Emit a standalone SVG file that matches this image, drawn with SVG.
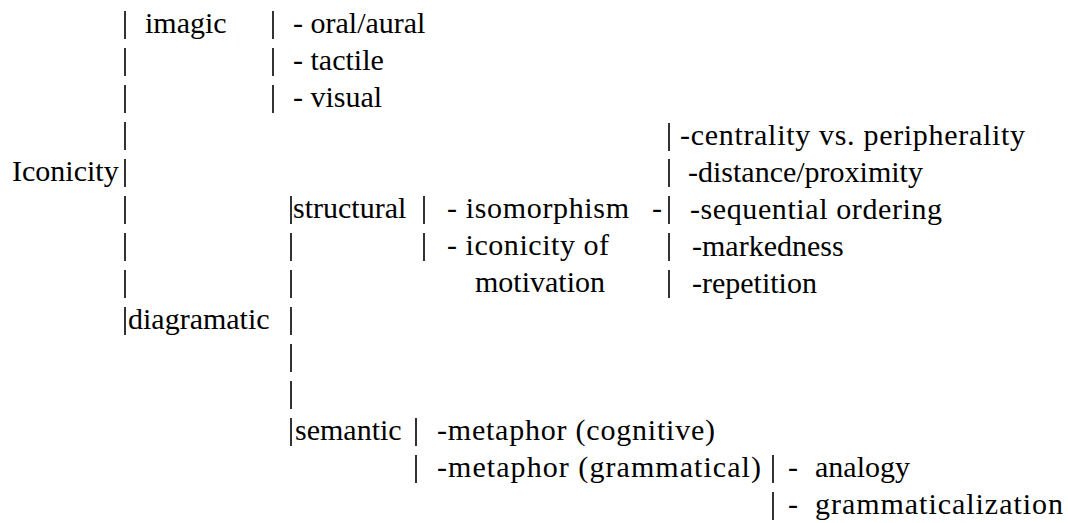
<svg xmlns="http://www.w3.org/2000/svg" width="1068" height="523" viewBox="0 0 1068 523">
<style>
text{font-family:"Liberation Serif","Times New Roman","DejaVu Serif",serif;font-size:30px;fill:#000}
.p{stroke:#000;stroke-width:1.6}
</style>
<rect width="1068" height="523" fill="#fff"/>
<g id="connectors">
<path class="p" d="M125,11V39M125,48V76M125,85V113M125,122V150M125,159V187M125,196V224M125,233V261M125,270V298M125,307V335"/>
<path class="p" d="M273,11V39M273,48V76M273,85V113"/>
<path class="p" d="M291,196V224M291,233V261M291,270V298M291,307V335M291,344V372M291,381V409M291,418V446"/>
<path class="p" d="M424,196V224M424,233V261"/>
<path class="p" d="M669,123V151M669,159V187M669,196V224M669,233V261M669,270V298"/>
<path class="p" d="M416,418V446M416,455V483"/>
<path class="p" d="M773,455V483M773,492V520"/>
</g>
<g id="iconicity"><text x="12" y="181">Iconicity</text></g>
<g id="imagic"><text x="145" y="33">imagic</text></g>
<g id="oral"><text x="293" y="33">- oral/aural</text></g>
<g id="tactile"><text x="293" y="70">- tactile</text></g>
<g id="visual"><text x="293" y="107">- visual</text></g>
<g id="diagramatic"><text x="128" y="329">diagramatic</text></g>
<g id="structural"><text x="293" y="218">structural</text></g>
<g id="isomorphism"><text x="447" y="218" textLength="182" lengthAdjust="spacing">- isomorphism</text><text x="652" y="218">-</text></g>
<g id="iconicity-motivation"><text x="447" y="255" textLength="162" lengthAdjust="spacing">- iconicity of</text><text x="475" y="292">motivation</text></g>
<g id="centrality"><text x="680" y="145" textLength="345" lengthAdjust="spacing">-centrality vs. peripherality</text></g>
<g id="distance"><text x="688" y="182">-distance/proximity</text></g>
<g id="sequential"><text x="690" y="219" textLength="252" lengthAdjust="spacing">-sequential ordering</text></g>
<g id="markedness"><text x="692" y="256">-markedness</text></g>
<g id="repetition"><text x="692" y="293">-repetition</text></g>
<g id="semantic"><text x="295" y="440">semantic</text></g>
<g id="metaphor-cognitive"><text x="437" y="440" textLength="278" lengthAdjust="spacing">-metaphor (cognitive)</text></g>
<g id="metaphor-grammatical"><text x="437" y="477" textLength="324" lengthAdjust="spacing">-metaphor (grammatical)</text></g>
<g id="analogy"><text x="788" y="477">-<tspan x="815">analogy</tspan></text></g>
<g id="grammaticalization"><text x="788" y="514">-<tspan x="815" textLength="248" lengthAdjust="spacing">grammaticalization</tspan></text></g>
</svg>
